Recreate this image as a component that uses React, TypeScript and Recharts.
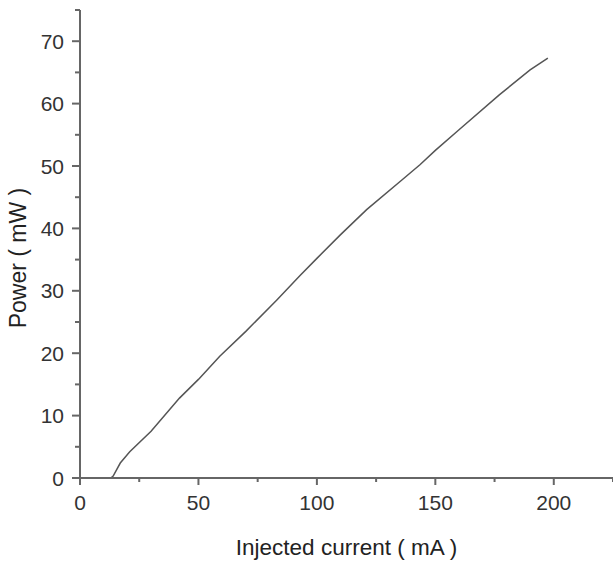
import { LineChart, Line, XAxis, YAxis, Label } from "recharts";

const current = [10, 13, 14, 17, 21, 30, 42, 50, 59, 70, 83, 93, 100, 110, 121, 136, 143.5, 150, 160, 177, 190, 197.5];
const power = [0, 0, 0.3, 2.4, 4.2, 7.5, 12.8, 15.8, 19.5, 23.5, 28.5, 32.5, 35.2, 39, 43, 47.8, 50.2, 52.5, 55.8, 61.4, 65.4, 67.3];

const xTicks = [0, 25, 50, 75, 100, 125, 150, 175, 200, 225];
const yTicks = [0, 5, 10, 15, 20, 25, 30, 35, 40, 45, 50, 55, 60, 65, 70, 75];

const data = current.map((c, i) => ({ current: c, power: power[i] }));

const axisColor = "#666";
const textColor = "#333";
const font = "'Liberation Sans', Arial, sans-serif";

function XTick(props: any) {
  const { x, y, payload } = props;
  const major = payload.value % 50 === 0;
  return (
    <g>
      <line x1={x} x2={x} y1={y} y2={y + (major ? 7 : 4)} stroke={axisColor} strokeWidth={2} />
      {major && (
        <text x={x} y={y + 32} textAnchor="middle" fill={textColor} fontSize={21} fontFamily={font}>
          {payload.value}
        </text>
      )}
    </g>
  );
}

function YTick(props: any) {
  const { x, y, payload } = props;
  const major = payload.value % 10 === 0 && payload.value !== 75;
  return (
    <g>
      <line x1={x} x2={x - (major ? 8 : 5)} y1={y} y2={y} stroke={axisColor} strokeWidth={2} />
      {major && (
        <text x={x - 16} y={y} dy="0.36em" textAnchor="end" fill={textColor} fontSize={21} fontFamily={font}>
          {payload.value}
        </text>
      )}
    </g>
  );
}

export default function App() {
  return (
    <div style={{ position: "absolute", left: 0, top: 0, background: "#fff" }}>
      <LineChart width={613} height={562} data={data} margin={{ top: 10, right: 0, bottom: 0, left: 0 }}>
        <XAxis
          dataKey="current"
          type="number"
          domain={[0, 225]}
          ticks={xTicks}
          interval={0}
          tickSize={0}
          tickMargin={0}
          tick={<XTick />}
          height={84}
          stroke={axisColor}
          strokeWidth={2}
          allowDataOverflow
        >
          <Label
            content={(p: any) => {
              const vb = p.viewBox;
              return (
                <text x={vb.x + vb.width / 2} y={vb.y + 77} textAnchor="middle" fill="#222" fontSize={22.5} fontFamily={font}>
                  Injected current ( mA )
                </text>
              );
            }}
          />
        </XAxis>
        <YAxis
          type="number"
          domain={[0, 75]}
          ticks={yTicks}
          interval={0}
          tickSize={0}
          tickMargin={0}
          tick={<YTick />}
          width={80}
          stroke={axisColor}
          strokeWidth={2}
          allowDataOverflow
        >
          <Label
            content={(p: any) => {
              const vb = p.viewBox;
              const cx = vb.x + 26;
              const cy = vb.y + vb.height / 2 + 14;
              return (
                <text x={cx} y={cy} transform={`rotate(-90 ${cx} ${cy})`} textAnchor="middle" fill="#222" fontSize={23} fontFamily={font}>
                  Power ( mW )
                </text>
              );
            }}
          />
        </YAxis>
        <Line dataKey="power" type="linear" stroke="#555" strokeWidth={1.5} dot={false} isAnimationActive={false} />
      </LineChart>
    </div>
  );
}
